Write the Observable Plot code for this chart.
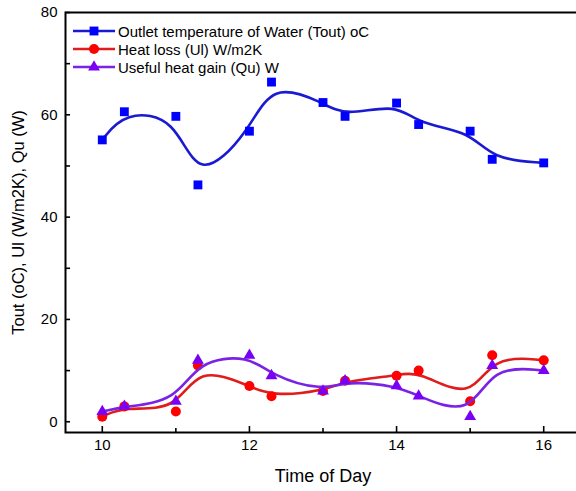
<!DOCTYPE html>
<html>
<head>
<meta charset="utf-8">
<script src="https://cdn.jsdelivr.net/npm/d3@7"></script>
<script src="https://cdn.jsdelivr.net/npm/@observablehq/plot@0.6"></script>
<style>
  html, body { margin: 0; padding: 0; background: #fff; overflow: hidden; }
  #wrap { position: relative; width: 576px; height: 491px; overflow: hidden; }
  #wrap > svg { max-width: none !important; display: block; }
  svg { font-family: "Liberation Sans", Arial, sans-serif; }
  g[aria-label="x-axis label"] text { font-size: 18px; }
  g[aria-label="y-axis label"] text { font-size: 16.5px; }
  #legend { position: absolute; left: 72px; top: 22px; font-family: "Liberation Sans", Arial, sans-serif; font-size: 15px; color: #000; }
  #legend .row { display: flex; align-items: center; height: 18px; }
  #legend svg { margin-right: 2px; }
</style>
</head>
<body>
<div id="wrap"></div>
<script>
// Data
const times = [10, 10.3, 11, 11.3, 12, 12.3, 13, 13.3, 14, 14.3, 15, 15.3, 16];
const tout  = [55.1, 60.6, 59.7, 46.3, 56.8, 66.4, 62.4, 59.7, 62.3, 58.1, 56.8, 51.3, 50.6];
const ul    = [1, 3, 2, 11, 7, 5, 6, 8, 9, 10, 4, 13, 12];
const qu    = [2, 3, 4, 12, 13, 9, 6, 8, 7, 5, 1, 11, 10];
const xMajorTicks = [10, 12, 14, 16];
const xMinorTicks = [11, 13, 15];
const yLabelTicks = [0, 20, 40, 60, 80];
const yAllTicks = [0, 10, 20, 30, 40, 50, 60, 70, 80];

const seriesNames = [
  "Outlet temperature of Water (Tout) oC",
  "Heat loss (Ul) W/m2K",
  "Useful heat gain (Qu) W"
];
const seriesValues = [tout, ul, qu];
const lineColors = ["#1a1ad2", "#e01c1c", "#7a22e6"];
const markColors = ["#0000ff", "#ff0000", "#7a00f5"];
const symbols = ["square", "circle", "triangle"];
const symbolR = [5, 5, 4.4];

const rows = seriesValues.map(vals => times.map((t, i) => ({t, v: vals[i]})));

const marks = [];
rows.forEach((data, k) => {
  marks.push(Plot.line(data, {x: "t", y: "v", curve: "basis", stroke: lineColors[k], strokeWidth: 2.6}));
  marks.push(Plot.dot(data, {x: "t", y: "v", symbol: symbols[k], r: symbolR[k], fill: markColors[k], stroke: "none"}));
});

const chart = Plot.plot({
  width: 582,
  height: 491,
  marginLeft: 65,
  marginRight: 2,
  marginTop: 12,
  marginBottom: 59,
  style: {fontFamily: "Liberation Sans, Arial, sans-serif", background: "#fff", color: "#000"},
  x: {domain: [9.5, 16.5]},
  y: {domain: [-2.1, 80]},
  marks: [
    ...marks,
    Plot.frame({stroke: "#000", strokeWidth: 2}),
    Plot.axisX(xMajorTicks, {tickSize: -6, tickPadding: 13, fontSize: 15, strokeWidth: 1.6,
      label: "Time of Day", labelArrow: "none", labelAnchor: "center", labelOffset: 49}),
    Plot.axisX(xMinorTicks, {tickSize: -4, text: null, strokeWidth: 1.6, label: null}),
    Plot.axisY(yAllTicks, {tickSize: -5, text: null, strokeWidth: 1.6, label: null}),
    Plot.axisY(yLabelTicks, {tickSize: 0, tickPadding: 8, fontSize: 15,
      label: "Tout (oC), Ul (W/m2K), Qu (W)", labelArrow: "none", labelAnchor: "center", labelOffset: 53})
  ]
});

const wrap = document.getElementById("wrap");
wrap.appendChild(chart);

// Legend (overlay inside the plot area, top-left)
const legend = document.createElement("div");
legend.id = "legend";
seriesNames.forEach((name, k) => {
  const row = document.createElement("div");
  row.className = "row";
  const s = d3.create("svg").attr("width", 44).attr("height", 18);
  s.append("line").attr("x1", 1).attr("x2", 43).attr("y1", 9).attr("y2", 9)
    .attr("stroke", lineColors[k]).attr("stroke-width", 2.6);
  s.append("path").attr("transform", "translate(22,9)")
    .attr("d", d3.symbol(k === 0 ? d3.symbolSquare : k === 1 ? d3.symbolCircle : d3.symbolTriangle, Math.PI * symbolR[k] * symbolR[k])())
    .attr("fill", markColors[k]);
  row.appendChild(s.node());
  const span = document.createElement("span");
  span.textContent = name;
  row.appendChild(span);
  legend.appendChild(row);
});
wrap.appendChild(legend);
</script>
</body>
</html>
